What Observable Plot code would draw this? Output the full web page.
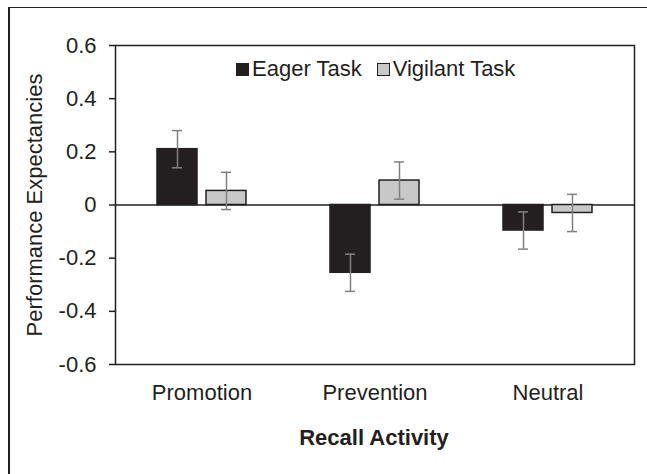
<!DOCTYPE html>
<html><head><meta charset="utf-8">
<script src="https://cdn.jsdelivr.net/npm/d3@7"></script>
<script src="https://cdn.jsdelivr.net/npm/@observablehq/plot@0.6"></script>
<style>
html,body{margin:0;padding:0;background:#fff;}
#wrap{position:relative;width:647px;height:474px;overflow:hidden;font-family:"Liberation Sans",Arial,sans-serif;color:#231f20;background:#fff;}
#outer{position:absolute;left:8px;top:7px;width:700px;height:520px;border-left:2px solid #231f20;border-top:1.5px solid #231f20;box-sizing:border-box;}
#chart{position:absolute;left:0;top:0;}
#legend{position:absolute;left:236px;top:58px;display:flex;align-items:center;font-size:22px;line-height:22px;white-space:nowrap;}
#legend .item{display:flex;align-items:center;margin-right:15px;}
#legend .sw{width:13px;height:13px;box-sizing:border-box;border:1.5px solid #231f20;margin-right:3px;}
#ytitle{position:absolute;left:0;top:0;font-size:22px;line-height:22px;white-space:nowrap;transform-origin:center center;}
#xtitle{position:absolute;left:114px;width:520px;top:427px;text-align:center;font-size:22px;line-height:22px;font-weight:bold;}
#chart svg g[aria-label="y-axis tick"]{stroke-width:1.5;}
</style>
</head><body>
<div id="wrap">
  <div id="outer"></div>
  <div id="chart"></div>
  <div id="legend"></div>
  <div id="ytitle"></div>
  <div id="xtitle"></div>
</div>
<script>
const categories = ["Promotion", "Prevention", "Neutral"];
const series = ["Eager Task", "Vigilant Task"];
const eagerValues = [0.21, -0.255, -0.096];
const vigilantValues = [0.053, 0.092, -0.03];
const eagerErrors = [0.07, 0.07, 0.07];
const vigilantErrors = [0.07, 0.07, 0.07];
const yTicks = [-0.6, -0.4, -0.2, 0, 0.2, 0.4, 0.6];
const colors = ["#231f20", "#c8c8c8"];
const xTitle = "Recall Activity";
const yTitle = "Performance Expectancies";

const rows = categories.flatMap((c, i) => [
  {category: c, series: series[0], value: eagerValues[i], err: eagerErrors[i]},
  {category: c, series: series[1], value: vigilantValues[i], err: vigilantErrors[i]}
]);

const ink = "#231f20";
const errInk = "#808080";

const chart = Plot.plot({
  width: 647, height: 474,
  marginLeft: 114, marginRight: 13, marginTop: 45, marginBottom: 110,
  style: {fontFamily: '"Liberation Sans", Arial, sans-serif', fontSize: "22px", color: ink, background: "transparent", overflow: "visible"},
  fx: {domain: categories, padding: 0, tickSize: 0, tickPadding: 20, label: null, axis: "bottom"},
  x: {domain: series, axis: null, paddingInner: 0.19, paddingOuter: 0.85},
  y: {domain: [-0.6, 0.6], ticks: yTicks, tickFormat: d => d === 0 ? "0" : d.toFixed(1), tickSize: 6, tickPadding: 13, label: null},
  color: {domain: series, range: colors},
  marks: [
    Plot.frame({facet: "super", stroke: ink, strokeWidth: 1.5}),
    Plot.ruleY([0], {stroke: ink, strokeWidth: 1.5}),
    Plot.barY(rows, {fx: "category", x: "series", y: "value", fill: "series", stroke: ink, strokeWidth: 1.5}),
    Plot.ruleX(rows, {fx: "category", x: "series", y1: d => d.value - d.err, y2: d => d.value + d.err, stroke: errInk, strokeWidth: 1.5}),
    Plot.tickY(rows, {fx: "category", x: "series", y: d => d.value - d.err, stroke: errInk, strokeWidth: 1.5, insetLeft: 15, insetRight: 15}),
    Plot.tickY(rows, {fx: "category", x: "series", y: d => d.value + d.err, stroke: errInk, strokeWidth: 1.5, insetLeft: 15, insetRight: 15})
  ]
});
document.getElementById("chart").appendChild(chart);

const legend = document.getElementById("legend");
series.forEach((s, i) => {
  const item = document.createElement("div");
  item.className = "item";
  const sw = document.createElement("span");
  sw.className = "sw";
  sw.style.background = colors[i];
  const label = document.createElement("span");
  label.textContent = s;
  item.appendChild(sw);
  item.appendChild(label);
  legend.appendChild(item);
});

document.getElementById("xtitle").textContent = xTitle;
const yt = document.getElementById("ytitle");
yt.textContent = yTitle;
const w = yt.offsetWidth, h = yt.offsetHeight;
// centre the rotated title on the plot area's vertical middle
const cx = 35.5, cy = (45 + 364) / 2;
yt.style.left = (cx - w / 2) + "px";
yt.style.top = (cy - h / 2) + "px";
yt.style.transform = "rotate(-90deg)";
</script>
</body></html>
